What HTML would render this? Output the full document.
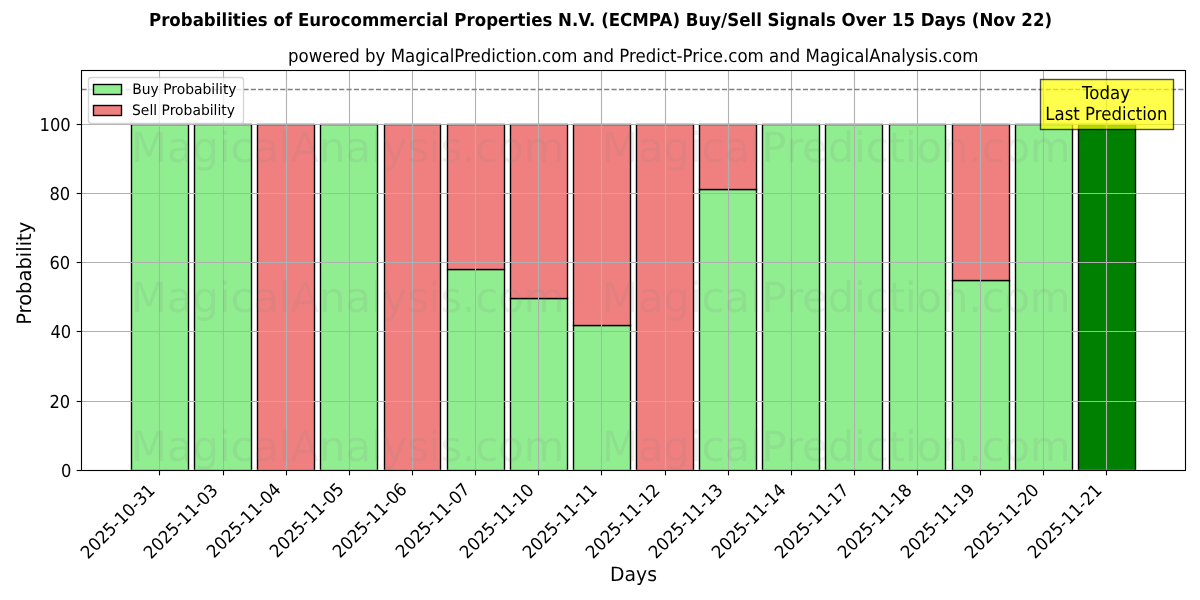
<!DOCTYPE html>
<html lang="en">
<head>
<meta charset="utf-8">
<title>Probabilities of Eurocommercial Properties N.V. (ECMPA) Buy/Sell Signals</title>
<style>
html,body{margin:0;padding:0;background:#ffffff;}
body{width:1200px;height:600px;overflow:hidden;font-family:'DejaVu Sans', 'Liberation Sans', sans-serif;}
svg{display:block;}
text{white-space:pre;text-rendering:geometricPrecision;}
</style>
</head>
<body>
<svg width="1200" height="600" viewBox="0 0 1200 600" font-family="'DejaVu Sans', 'Liberation Sans', sans-serif">
<rect x="0" y="0" width="1200" height="600" fill="#ffffff"/>
<defs><clipPath id="axclip"><rect x="80.903" y="70.333" width="1104.097" height="399.425"/></clipPath></defs>
<g clip-path="url(#axclip)" stroke="#000000" stroke-width="1.389" stroke-linejoin="miter">
<rect x="131.5" y="124.5" width="57" height="346" fill="#90ee90"/>
<rect x="194.5" y="124.5" width="57" height="346" fill="#90ee90"/>
<rect x="257.5" y="470.5" width="57" height="0" fill="#90ee90"/>
<rect x="320.5" y="124.5" width="57" height="346" fill="#90ee90"/>
<rect x="384.5" y="470.5" width="56" height="0" fill="#90ee90"/>
<rect x="447.5" y="269.5" width="57" height="201" fill="#90ee90"/>
<rect x="510.5" y="298.5" width="57" height="172" fill="#90ee90"/>
<rect x="573.5" y="325.5" width="57" height="145" fill="#90ee90"/>
<rect x="636.5" y="470.5" width="57" height="0" fill="#90ee90"/>
<rect x="699.5" y="189.5" width="57" height="281" fill="#90ee90"/>
<rect x="762.5" y="124.5" width="57" height="346" fill="#90ee90"/>
<rect x="825.5" y="124.5" width="57" height="346" fill="#90ee90"/>
<rect x="889.5" y="124.5" width="56" height="346" fill="#90ee90"/>
<rect x="952.5" y="280.5" width="57" height="190" fill="#90ee90"/>
<rect x="1015.5" y="124.5" width="57" height="346" fill="#90ee90"/>
<rect x="1078.5" y="124.5" width="57" height="346" fill="#008000"/>
<rect x="131.5" y="124.5" width="57" height="0" fill="#f08080"/>
<rect x="194.5" y="124.5" width="57" height="0" fill="#f08080"/>
<rect x="257.5" y="124.5" width="57" height="346" fill="#f08080"/>
<rect x="320.5" y="124.5" width="57" height="0" fill="#f08080"/>
<rect x="384.5" y="124.5" width="56" height="346" fill="#f08080"/>
<rect x="447.5" y="124.5" width="57" height="145" fill="#f08080"/>
<rect x="510.5" y="124.5" width="57" height="174" fill="#f08080"/>
<rect x="573.5" y="124.5" width="57" height="201" fill="#f08080"/>
<rect x="636.5" y="124.5" width="57" height="346" fill="#f08080"/>
<rect x="699.5" y="124.5" width="57" height="65" fill="#f08080"/>
<rect x="762.5" y="124.5" width="57" height="0" fill="#f08080"/>
<rect x="825.5" y="124.5" width="57" height="0" fill="#f08080"/>
<rect x="889.5" y="124.5" width="56" height="0" fill="#f08080"/>
<rect x="952.5" y="124.5" width="57" height="156" fill="#f08080"/>
<rect x="1015.5" y="124.5" width="57" height="0" fill="#f08080"/>
<rect x="1078.5" y="124.5" width="57" height="0" fill="#ff0000"/>
</g>
<g clip-path="url(#axclip)" stroke="#b0b0b0" stroke-width="1.111" stroke-linecap="square" fill="none">
<path d="M159.5 469.758 V70.333"/>
<path d="M223.5 469.758 V70.333"/>
<path d="M286.5 469.758 V70.333"/>
<path d="M349.5 469.758 V70.333"/>
<path d="M412.5 469.758 V70.333"/>
<path d="M475.5 469.758 V70.333"/>
<path d="M538.5 469.758 V70.333"/>
<path d="M601.5 469.758 V70.333"/>
<path d="M665.5 469.758 V70.333"/>
<path d="M728.5 469.758 V70.333"/>
<path d="M791.5 469.758 V70.333"/>
<path d="M854.5 469.758 V70.333"/>
<path d="M917.5 469.758 V70.333"/>
<path d="M980.5 469.758 V70.333"/>
<path d="M1043.5 469.758 V70.333"/>
<path d="M1106.5 469.758 V70.333"/>
<path d="M80.903 470.5 H1185"/>
<path d="M80.903 401.5 H1185"/>
<path d="M80.903 331.5 H1185"/>
<path d="M80.903 262.5 H1185"/>
<path d="M80.903 193.5 H1185"/>
<path d="M80.903 124.5 H1185"/>
</g>
<g stroke="#000000" stroke-width="1.111" fill="none">
<path d="M159.5 470.5 v4.861"/>
<path d="M223.5 470.5 v4.861"/>
<path d="M286.5 470.5 v4.861"/>
<path d="M349.5 470.5 v4.861"/>
<path d="M412.5 470.5 v4.861"/>
<path d="M475.5 470.5 v4.861"/>
<path d="M538.5 470.5 v4.861"/>
<path d="M601.5 470.5 v4.861"/>
<path d="M665.5 470.5 v4.861"/>
<path d="M728.5 470.5 v4.861"/>
<path d="M791.5 470.5 v4.861"/>
<path d="M854.5 470.5 v4.861"/>
<path d="M917.5 470.5 v4.861"/>
<path d="M980.5 470.5 v4.861"/>
<path d="M1043.5 470.5 v4.861"/>
<path d="M1106.5 470.5 v4.861"/>
<path d="M81.5 470.5 h-4.861"/>
<path d="M81.5 401.5 h-4.861"/>
<path d="M81.5 331.5 h-4.861"/>
<path d="M81.5 262.5 h-4.861"/>
<path d="M81.5 193.5 h-4.861"/>
<path d="M81.5 124.5 h-4.861"/>
</g>
<g font-size="16.667px" fill="#000000">
<text transform="translate(156.082 491.594) rotate(-45) scale(0.995 1.061)" text-anchor="end">2025-10-31</text>
<text transform="translate(219.082 491.594) rotate(-45) scale(0.995 1.061)" text-anchor="end">2025-11-03</text>
<text transform="translate(282.082 490.594) rotate(-45) scale(0.995 1.061)" text-anchor="end">2025-11-04</text>
<text transform="translate(345.082 490.344) rotate(-45) scale(0.995 1.061)" text-anchor="end">2025-11-05</text>
<text transform="translate(408.082 490.594) rotate(-45) scale(0.995 1.061)" text-anchor="end">2025-11-06</text>
<text transform="translate(471.082 490.594) rotate(-45) scale(0.995 1.061)" text-anchor="end">2025-11-07</text>
<text transform="translate(535.082 491.344) rotate(-45) scale(0.995 1.061)" text-anchor="end">2025-11-10</text>
<text transform="translate(598.082 491.344) rotate(-45) scale(0.995 1.061)" text-anchor="end">2025-11-11</text>
<text transform="translate(661.082 491.344) rotate(-45) scale(0.995 1.061)" text-anchor="end">2025-11-12</text>
<text transform="translate(724.082 491.344) rotate(-45) scale(0.995 1.061)" text-anchor="end">2025-11-13</text>
<text transform="translate(787.082 491.344) rotate(-45) scale(0.995 1.061)" text-anchor="end">2025-11-14</text>
<text transform="translate(850.082 491.344) rotate(-45) scale(0.995 1.061)" text-anchor="end">2025-11-17</text>
<text transform="translate(913.082 491.344) rotate(-45) scale(0.995 1.061)" text-anchor="end">2025-11-18</text>
<text transform="translate(976.082 491.344) rotate(-45) scale(0.995 1.061)" text-anchor="end">2025-11-19</text>
<text transform="translate(1040.082 491.344) rotate(-45) scale(0.995 1.061)" text-anchor="end">2025-11-20</text>
<text transform="translate(1103.082 491.344) rotate(-45) scale(0.995 1.061)" text-anchor="end">2025-11-21</text>
<text transform="translate(71.431 476.591) scale(0.98 1.07)" text-anchor="end">0</text>
<text transform="translate(70.181 407.676) scale(0.98 1.07)" text-anchor="end">20</text>
<text transform="translate(71.181 337.511) scale(0.98 1.07)" text-anchor="end">40</text>
<text transform="translate(70.181 268.597) scale(0.98 1.07)" text-anchor="end">60</text>
<text transform="translate(70.181 199.682) scale(0.98 1.07)" text-anchor="end">80</text>
<text transform="translate(70.681 130.518) scale(0.98 1.07)" text-anchor="end">100</text>
</g>
<text transform="translate(633.451 580.707) scale(0.969 1.014)" font-size="19.444px" text-anchor="middle">Days</text>
<text transform="translate(30.769 273.296) rotate(-90) scale(1.003 1.017)" font-size="19.444px" text-anchor="middle">Probability</text>
<path d="M80.903 89.5 H1185" clip-path="url(#axclip)" fill="none" stroke="#808080" stroke-width="1.389" stroke-dasharray="5.139 2.222" stroke-dashoffset="-0.6"/>
<rect x="81.5" y="70.5" width="1104" height="400" fill="none" stroke="#000000" stroke-width="1.111"/>
<rect x="1040.5" y="79.5" width="133" height="50" fill="#ffff00" stroke="#000000" stroke-width="1.389" opacity="0.7"/>
<text transform="translate(1106.031 99.307) scale(0.996 1.08)" font-size="16.667px" text-anchor="middle">Today</text>
<text transform="translate(1106.406 119.97) scale(0.996 1.086)" font-size="16.667px" text-anchor="middle">Last Prediction</text>
<text transform="translate(347.653 161.716)" font-size="41.667px" text-anchor="middle" fill="#808080" opacity="0.12">MagicalAnalysis.com</text>
<text transform="translate(836.326 161.716)" font-size="41.667px" text-anchor="middle" fill="#808080" opacity="0.12">MagicalPrediction.com</text>
<text transform="translate(347.653 311.5)" font-size="41.667px" text-anchor="middle" fill="#808080" opacity="0.12">MagicalAnalysis.com</text>
<text transform="translate(836.326 311.5)" font-size="41.667px" text-anchor="middle" fill="#808080" opacity="0.12">MagicalPrediction.com</text>
<text transform="translate(347.653 461.285)" font-size="41.667px" text-anchor="middle" fill="#808080" opacity="0.12">MagicalAnalysis.com</text>
<text transform="translate(836.326 461.285)" font-size="41.667px" text-anchor="middle" fill="#808080" opacity="0.12">MagicalPrediction.com</text>
<text transform="translate(633.201 61.5) scale(0.997 1.086)" font-size="16.667px" text-anchor="middle">powered by MagicalPrediction.com and Predict-Price.com and MagicalAnalysis.com</text>
<rect x="88.5" y="77.5" width="155" height="46" rx="2.778" ry="2.778" fill="#ffffff" stroke="#cccccc" stroke-width="1.389" opacity="0.8"/>
<rect x="93.5" y="84.5" width="28" height="10" fill="#90ee90" stroke="#000000" stroke-width="1.389"/>
<text transform="translate(132.292 94.387) scale(1 1.04)" font-size="13.889px">Buy Probability</text>
<rect x="93.5" y="105.5" width="28" height="10" fill="#f08080" stroke="#000000" stroke-width="1.389"/>
<text transform="translate(132.042 114.773) scale(1.001 1.042)" font-size="13.889px">Sell Probability</text>
<text transform="translate(600.5 25.664) scale(0.998 1.078)" font-size="16.667px" text-anchor="middle" font-weight="700">Probabilities of Eurocommercial Properties N.V. (ECMPA) Buy/Sell Signals Over 15 Days (Nov 22)</text>
</svg>
</body>
</html>
